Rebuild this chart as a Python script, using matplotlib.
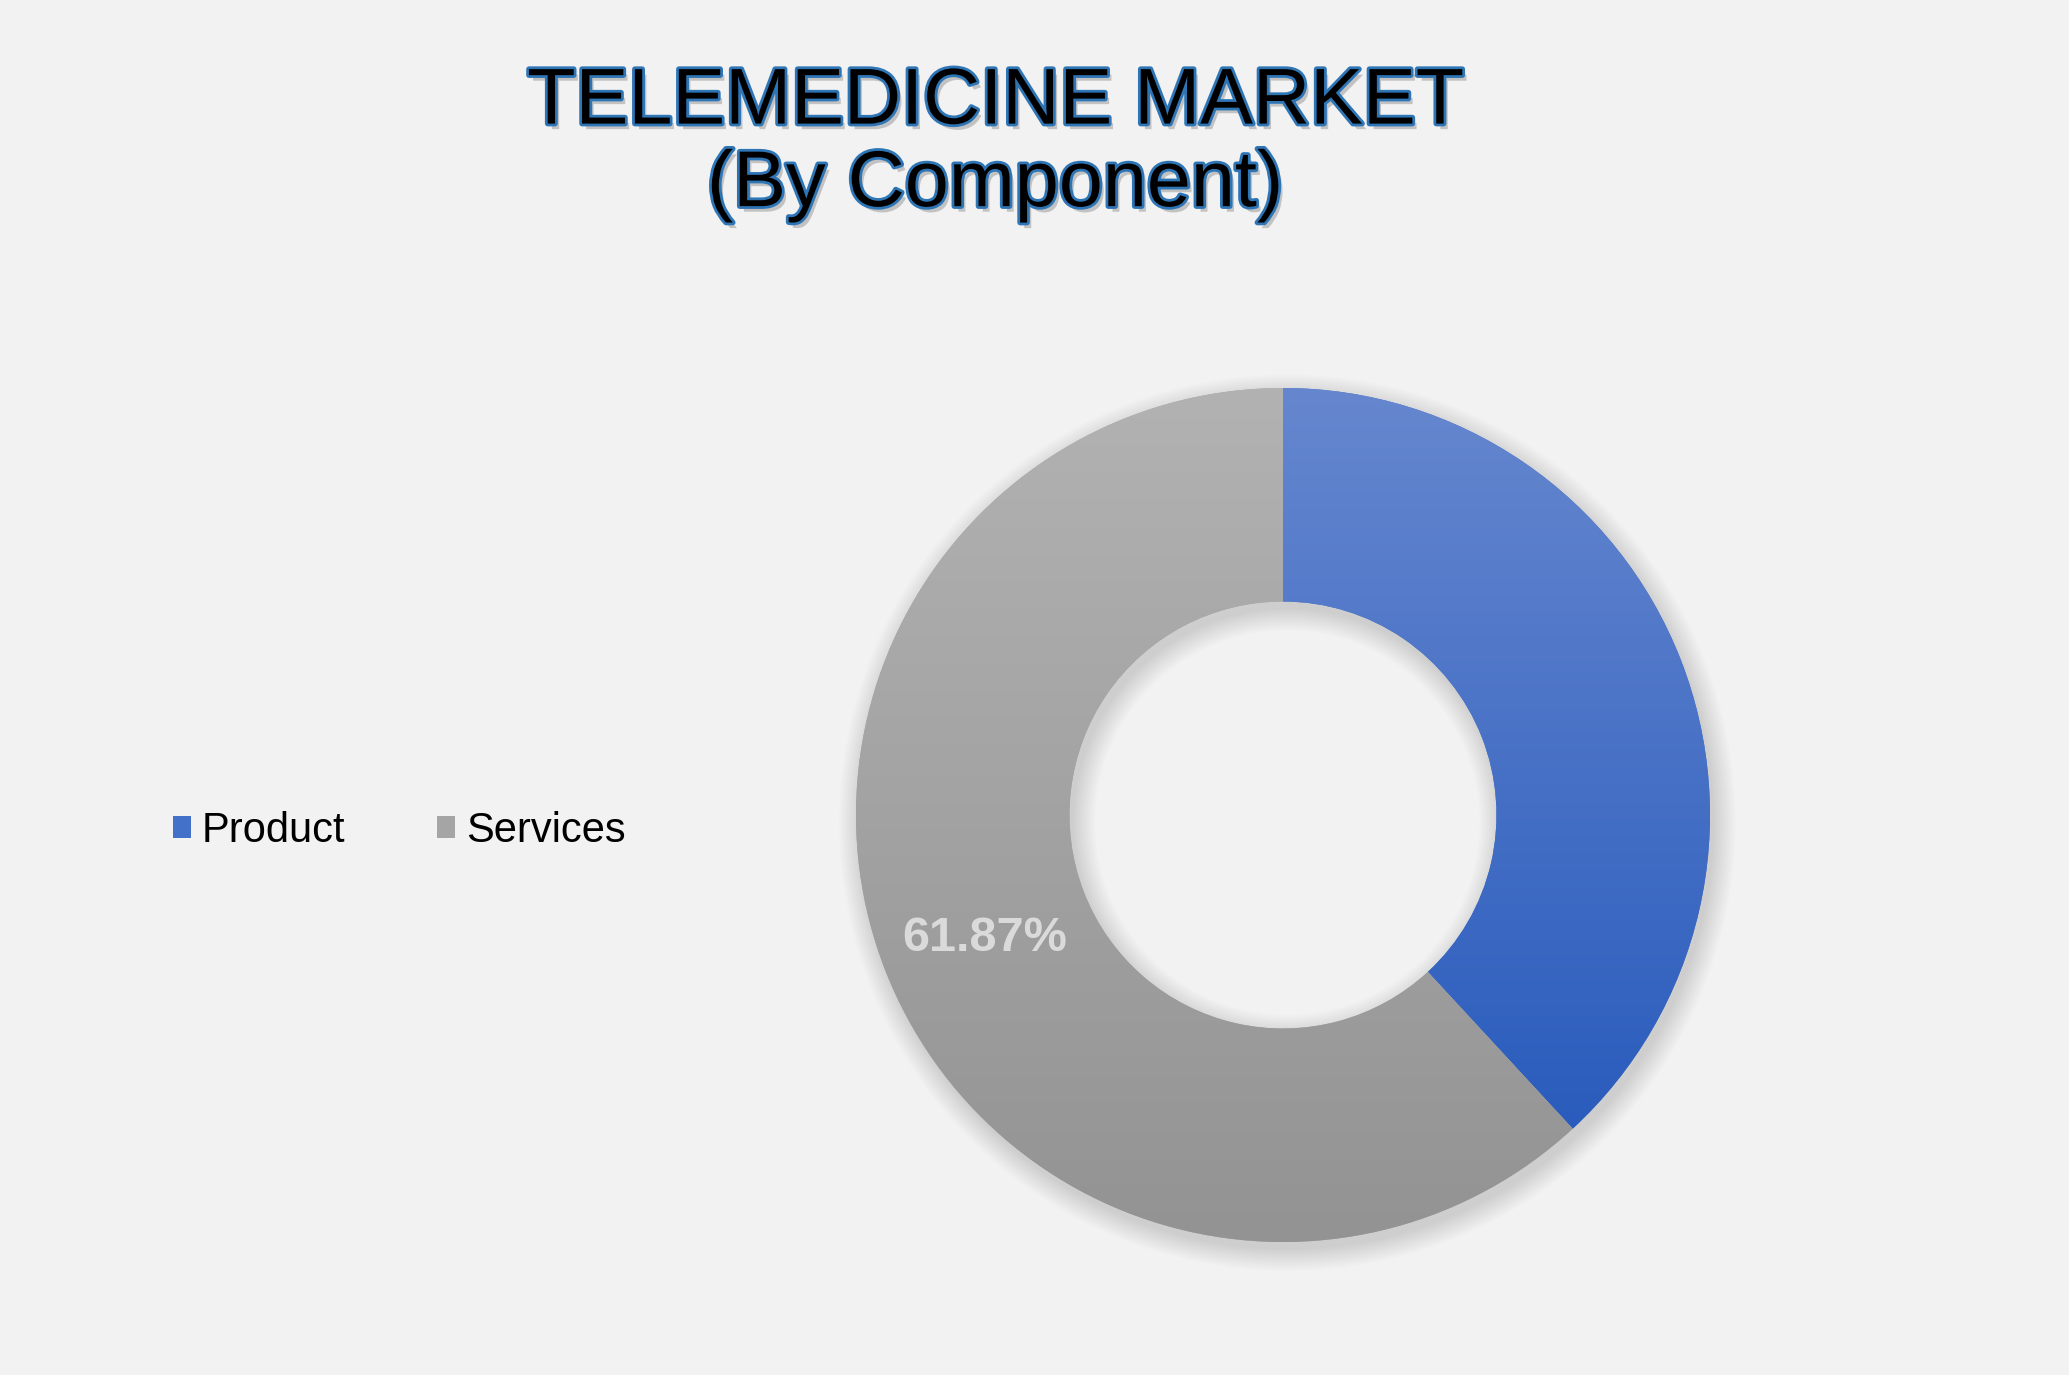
import matplotlib.pyplot as plt
import matplotlib.patheffects as pe
import numpy as np
from matplotlib.patches import Wedge
from matplotlib.colors import LinearSegmentedColormap

# data
components = ['Product', 'Services']
shares = [38.13, 61.87]
shown_labels = [None, '61.87%']

# gradient colours (top -> bottom) for each slice
mid_colors = ['#4370c9', '#a5a5a5']
top_colors = ['#6687cf', '#b2b2b2']
bottom_colors = ['#2a5cbd', '#939393']

plt.rcParams['font.family'] = ['Liberation Sans', 'DejaVu Sans']

fig = plt.figure(figsize=(20.69, 13.75), dpi=100)
fig.patch.set_facecolor('#f2f2f2')

# donut axes
lim = 1.15
cx, cy, r_px = 1283 / 2069, 560 / 1375, 427
w_frac = 2 * r_px * lim / 2069
h_frac = 2 * r_px * lim / 1375
ax = fig.add_axes([cx - w_frac / 2, cy - h_frac / 2, w_frac, h_frac])
ax.set_facecolor('none')

ring = 0.50
wedges, _ = ax.pie(shares, colors=mid_colors, startangle=90, counterclock=False,
                   radius=1, wedgeprops=dict(width=ring, linewidth=0, zorder=2))

# soft shadow around the ring
for k in range(12):
    ax.add_patch(Wedge((0.01, -0.018), 1 + k * 0.0045, 0, 360, width=ring + 2 * k * 0.0045,
                       facecolor='black', alpha=0.011, linewidth=0, zorder=1))

# vertical gradient fill per slice
grad = np.linspace(0, 1, 256).reshape(-1, 1)
for w, c_top, c_bot in zip(wedges, top_colors, bottom_colors):
    ext = w.get_path().get_extents()
    cmap = LinearSegmentedColormap.from_list('g', [c_bot, c_top])
    im = ax.imshow(grad, cmap=cmap, origin='lower', aspect='auto', zorder=3,
                   extent=(ext.x0, ext.x1, ext.y0, ext.y1))
    im.set_clip_path(w)

# data label on the services slice
for w, lab in zip(wedges, shown_labels):
    if lab is None:
        continue
    ang = np.deg2rad((w.theta1 + w.theta2) / 2)
    rr = 1 - ring / 2
    ax.text(rr * np.cos(ang), rr * np.sin(ang) - 0.015, lab, ha='center', va='center',
            fontsize=35, fontweight='bold', color='#dadada', zorder=5)

ax.set_xlim(-lim, lim)
ax.set_ylim(-lim, lim)
ax.set_aspect('equal')
ax.axis('off')

# legend
ax.legend(wedges, components, loc='center left', bbox_to_anchor=(0.0836, 0.3955),
          bbox_transform=fig.transFigure, ncol=2, frameon=False, fontsize=30,
          handlelength=0.43, handleheight=0.43, handletextpad=0.26,
          columnspacing=2.2, borderpad=0, borderaxespad=0)

# title
title = fig.text(0.481, 0.895, 'TELEMEDICINE MARKET\n(By Component)', ha='center', va='center',
                 fontsize=57, color='black', linespacing=1.13)
title.set_path_effects([pe.SimplePatchShadow(offset=(3, -4), shadow_rgbFace='#555555', alpha=0.3),
                        pe.Stroke(linewidth=4, foreground='#2e75b6'),
                        pe.Normal()])

fig.savefig('out.png', dpi=100, facecolor=fig.get_facecolor())
